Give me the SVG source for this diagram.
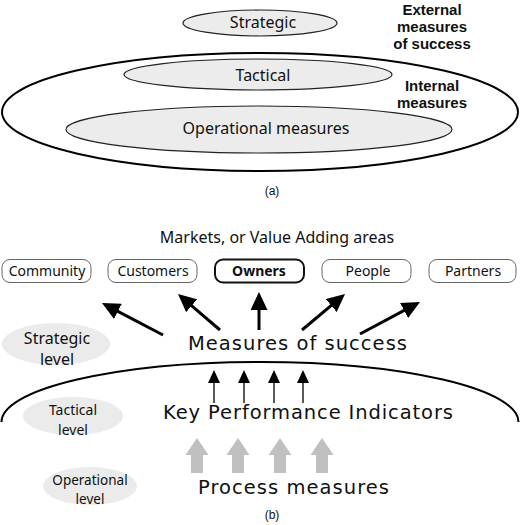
<svg xmlns="http://www.w3.org/2000/svg" width="520" height="525" viewBox="0 0 520 525">
<style>
text{font-family:"Noto Sans","Open Sans","DejaVu Sans",sans-serif;fill:#111;text-anchor:middle}
.lvl{fill:#ececec;stroke:#222;stroke-width:1.2}
.outer{fill:none;stroke:#000;stroke-width:2}
.side{fill:#ebebeb;stroke:none}
.bold{font-family:"Liberation Sans",Arial,sans-serif;font-weight:bold;font-size:15px}
.cap{font-family:"Liberation Sans",Arial,sans-serif;font-size:12px}
.box{fill:#fff;stroke:#666;stroke-width:1}
.boxb{fill:#fff;stroke:#111;stroke-width:2}
.big{font-family:"DejaVu Sans","Noto Sans",sans-serif;font-size:19.5px}
.bt{font-size:14px}
.st{font-size:14px}
.thick{stroke:#000;stroke-width:3;fill:none;marker-end:url(#hb)}
.thin{stroke:#000;stroke-width:1.3;fill:none;marker-end:url(#hs)}
.gray{fill:#c0c0c0}
</style>
<defs>
<marker id="hb" markerUnits="userSpaceOnUse" markerWidth="18" markerHeight="17" viewBox="0 0 18 17" refX="6" refY="8.5" orient="auto"><path d="M0,0 L18,8.5 L0,17 z" fill="#000"/></marker>
<marker id="hs" markerUnits="userSpaceOnUse" markerWidth="13" markerHeight="12" viewBox="0 0 13 12" refX="3" refY="6" orient="auto"><path d="M0,0 L13,6 L0,12 z" fill="#000"/></marker>
<path id="ga" d="M-6,473 L6,473 L6,455 L11.5,455 L0,438 L-11.5,455 L-6,455 z"/>
</defs>

<!-- (a) -->
<g id="outer-ellipse"><ellipse class="outer" cx="260" cy="112" rx="258" ry="59"/></g>
<g id="strategic"><ellipse class="lvl" cx="260" cy="23" rx="77" ry="13"/><text x="263" y="28" font-size="16">Strategic</text></g>
<g id="tactical"><ellipse class="lvl" cx="258" cy="74.5" rx="134" ry="15.5"/><text x="263" y="81" font-size="16">Tactical</text></g>
<g id="operational"><ellipse class="lvl" cx="259" cy="129.5" rx="193" ry="23.5"/><text x="266" y="134" font-size="16">Operational measures</text></g>
<g id="external-label"><text class="bold" x="432" y="14.5">External<tspan x="432" dy="17">measures</tspan><tspan x="432" dy="17">of success</tspan></text></g>
<g id="internal-label"><text class="bold" x="432" y="90.5">Internal<tspan x="432" dy="17">measures</tspan></text></g>
<text class="cap" x="272" y="195">(a)</text>

<!-- (b) -->
<text x="277" y="243" font-size="16">Markets, or Value Adding areas</text>
<g id="community"><rect class="box" x="2" y="259.5" width="89" height="23" rx="8"/><text class="bt" x="47" y="276">Community</text></g>
<g id="customers"><rect class="box" x="108" y="259.5" width="89" height="23" rx="8"/><text class="bt" x="153" y="276">Customers</text></g>
<g id="owners"><rect class="boxb" x="215" y="259.5" width="89" height="23" rx="8"/><text class="bt" x="259" y="276" font-weight="bold">Owners</text></g>
<g id="people"><rect class="box" x="322" y="259.5" width="89" height="23" rx="8"/><text class="bt" x="368" y="276">People</text></g>
<g id="partners"><rect class="box" x="429" y="259.5" width="87" height="23" rx="8"/><text class="bt" x="473" y="276">Partners</text></g>

<g id="strategic-level"><ellipse class="side" cx="56" cy="344" rx="54" ry="21"/><text x="57" y="344" font-size="16">Strategic<tspan x="57" dy="21">level</tspan></text></g>
<g id="tactical-level"><ellipse class="side" cx="73" cy="416" rx="50" ry="19"/><text class="st" x="73" y="415">Tactical<tspan x="73" dy="20">level</tspan></text></g>
<g id="operational-level"><ellipse class="side" cx="90" cy="486" rx="47" ry="19"/><text x="90" y="485" font-size="13.5">Operational<tspan x="90" dy="19">level</tspan></text></g>

<g id="measures-of-success"><text class="big" x="297.5" y="350" textLength="219" lengthAdjust="spacing">Measures of success</text></g>
<g id="kpi"><text class="big" x="308" y="419" textLength="290" lengthAdjust="spacing">Key Performance Indicators</text></g>
<g id="process-measures"><text class="big" x="293.5" y="494" textLength="191" lengthAdjust="spacing">Process measures</text></g>

<g id="connectors">
<path d="M1.5,422 A258.5,60 0 0 1 518.5,422" fill="none" stroke="#000" stroke-width="2"/>
<line class="thick" x1="163" y1="335" x2="112.6" y2="308.6"/>
<line class="thick" x1="220" y1="330" x2="187.1" y2="301.8"/>
<line class="thick" x1="259" y1="330" x2="259" y2="304"/>
<line class="thick" x1="302" y1="330" x2="335.8" y2="301.7"/>
<line class="thick" x1="360" y1="334" x2="409.4" y2="307.6"/>
<line class="thin" x1="214" y1="403" x2="214" y2="380"/>
<line class="thin" x1="244" y1="403" x2="244" y2="380"/>
<line class="thin" x1="274" y1="403" x2="274" y2="380"/>
<line class="thin" x1="303" y1="403" x2="303" y2="380"/>
<use href="#ga" class="gray" x="197"/>
<use href="#ga" class="gray" x="238"/>
<use href="#ga" class="gray" x="280"/>
<use href="#ga" class="gray" x="322"/>
</g>
<text class="cap" x="272" y="519">(b)</text>
</svg>
